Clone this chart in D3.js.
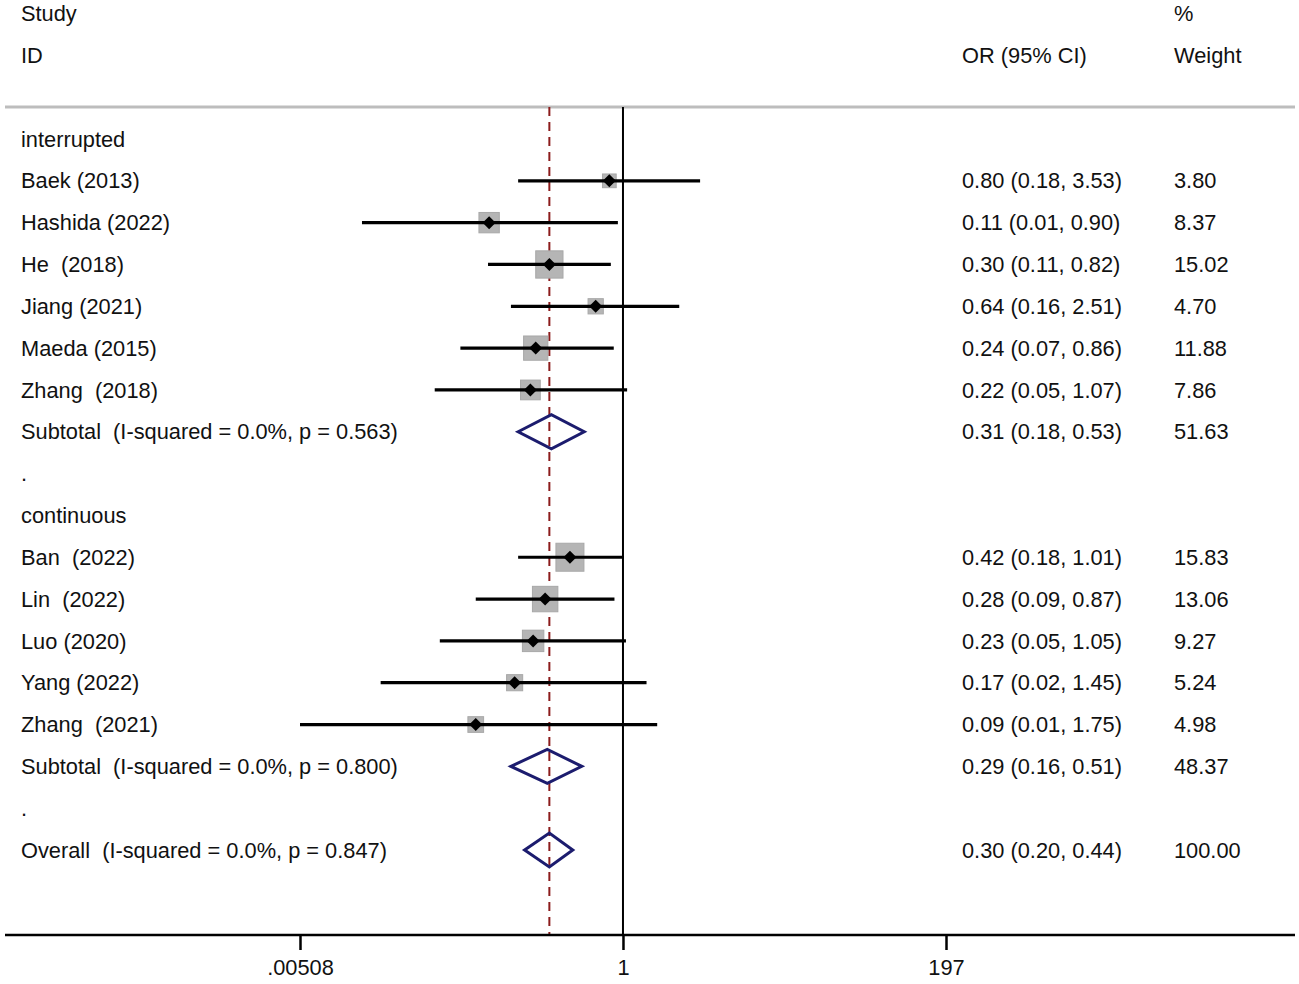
<!DOCTYPE html>
<html>
<head>
<meta charset="utf-8">
<script src="https://cdn.jsdelivr.net/npm/d3@7"></script>
<style>
  body { margin: 0; background: #fff; }
  text { font-family: "Liberation Sans", Arial, sans-serif; font-size: 21.8px; fill: #111; white-space: pre; }
</style>
</head>
<body>
<div id="chart"></div>
<script>
// study level data
const groupNames = ["interrupted", "continuous"];
const studyGroup = [0, 0, 0, 0, 0, 0, 1, 1, 1, 1, 1];
const studyNames = ["Baek (2013)", "Hashida (2022)", "He  (2018)", "Jiang (2021)", "Maeda (2015)", "Zhang  (2018)",
                    "Ban  (2022)", "Lin  (2022)", "Luo (2020)", "Yang (2022)", "Zhang  (2021)"];
const orEst  = [0.80, 0.112, 0.30, 0.64, 0.24, 0.22, 0.42, 0.28, 0.23, 0.17, 0.09];
const ciLow  = [0.18, 0.014, 0.11, 0.16, 0.07, 0.046, 0.18, 0.09, 0.05, 0.019, 0.00508];
const ciHigh = [3.53, 0.92, 0.82, 2.51, 0.86, 1.07, 1.01, 0.87, 1.05, 1.47, 1.75];
const weights = [3.80, 8.37, 15.02, 4.70, 11.88, 7.86, 15.83, 13.06, 9.27, 5.24, 4.98];
const orLabels = ["0.80 (0.18, 3.53)", "0.11 (0.01, 0.90)", "0.30 (0.11, 0.82)", "0.64 (0.16, 2.51)",
                  "0.24 (0.07, 0.86)", "0.22 (0.05, 1.07)", "0.42 (0.18, 1.01)", "0.28 (0.09, 0.87)",
                  "0.23 (0.05, 1.05)", "0.17 (0.02, 1.45)", "0.09 (0.01, 1.75)"];
const weightLabels = ["3.80", "8.37", "15.02", "4.70", "11.88", "7.86", "15.83", "13.06", "9.27", "5.24", "4.98"];

// pooled estimates: subtotal interrupted, subtotal continuous, overall
const pooledNames = ["Subtotal  (I-squared = 0.0%, p = 0.563)", "Subtotal  (I-squared = 0.0%, p = 0.800)",
                     "Overall  (I-squared = 0.0%, p = 0.847)"];
const pooledEst  = [0.31, 0.29, 0.30];
const pooledLow  = [0.18, 0.16, 0.20];
const pooledHigh = [0.53, 0.51, 0.44];
const pooledOrLabels = ["0.31 (0.18, 0.53)", "0.29 (0.16, 0.51)", "0.30 (0.20, 0.44)"];
const pooledWeightLabels = ["51.63", "48.37", "100.00"];

const tickValues = [0.00508, 1, 197];
const tickLabels = [".00508", "1", "197"];

// build the row list
let rows = [];
groupNames.forEach((g, gi) => {
    rows.push({ type: "group", label: g });
    studyNames.forEach((s, i) => {
        if (studyGroup[i] !== gi) return;
        rows.push({ type: "study", label: s, est: orEst[i], lo: ciLow[i], hi: ciHigh[i],
                    w: weights[i], orText: orLabels[i], wText: weightLabels[i] });
    });
    rows.push({ type: "pooled", label: pooledNames[gi], est: pooledEst[gi], lo: pooledLow[gi],
                hi: pooledHigh[gi], orText: pooledOrLabels[gi], wText: pooledWeightLabels[gi] });
    rows.push({ type: "spacer", label: "." });
});
rows.push({ type: "pooled", label: pooledNames[2], est: pooledEst[2], lo: pooledLow[2],
            hi: pooledHigh[2], orText: pooledOrLabels[2], wText: pooledWeightLabels[2] });

const width = 1299, height = 984;
const svg = d3.select("#chart").append("svg")
    .attr("width", width)
    .attr("height", height);

const x = d3.scaleLog().domain([0.00508, 197]).range([300, 946]);
const y = d3.scaleLinear().domain([0, rows.length - 1]).range([139, 850]);
const boxSize = d3.scaleSqrt().domain([0, d3.max(weights)]).range([0, 28]);

const plotTop = 107, axisY = 935;
const colLabel = 21, colOr = 962, colWeight = 1174;

// header
svg.append("text").attr("x", colLabel).attr("y", 13).attr("dy", "0.35em").text("Study");
svg.append("text").attr("x", colLabel).attr("y", 55).attr("dy", "0.35em").text("ID");
svg.append("text").attr("x", colOr).attr("y", 55).attr("dy", "0.35em").text("OR (95% CI)");
svg.append("text").attr("x", colWeight).attr("y", 13).attr("dy", "0.35em").text("%");
svg.append("text").attr("x", colWeight).attr("y", 55).attr("dy", "0.35em").text("Weight");

svg.append("line")
    .attr("x1", 5).attr("x2", 1295)
    .attr("y1", plotTop).attr("y2", plotTop)
    .attr("stroke", "#bdbdbd")
    .attr("stroke-width", 3);

// null line at OR = 1
svg.append("line")
    .attr("x1", x(1)).attr("x2", x(1))
    .attr("y1", plotTop).attr("y2", axisY)
    .attr("stroke", "#000")
    .attr("stroke-width", 2);

// overall estimate line
svg.append("line")
    .attr("x1", x(pooledEst[2])).attr("x2", x(pooledEst[2]))
    .attr("y1", plotTop).attr("y2", axisY)
    .attr("stroke", "#8b1c1c")
    .attr("stroke-width", 2)
    .attr("stroke-dasharray", "9,6");

// row labels and text columns
const rowG = svg.selectAll("g.row")
    .data(rows)
    .enter()
    .append("g")
    .attr("class", "row")
    .attr("transform", (d, i) => `translate(0, ${y(i)})`);

rowG.append("text")
    .attr("x", colLabel)
    .attr("dy", "0.35em")
    .text(d => d.label);

rowG.filter(d => d.orText)
    .append("text")
    .attr("x", colOr)
    .attr("dy", "0.35em")
    .text(d => d.orText);

rowG.filter(d => d.wText)
    .append("text")
    .attr("x", colWeight)
    .attr("dy", "0.35em")
    .text(d => d.wText);

// studies: weight boxes, CI lines, point markers
const studyG = rowG.filter(d => d.type === "study");

studyG.append("rect")
    .attr("x", d => x(d.est) - boxSize(d.w) / 2)
    .attr("y", d => -boxSize(d.w) / 2)
    .attr("width", d => boxSize(d.w))
    .attr("height", d => boxSize(d.w))
    .attr("fill", "#b5b5b5")
    .attr("stroke", "#a8a8a8")
    .attr("stroke-width", 1);

studyG.append("line")
    .attr("x1", d => x(d.lo))
    .attr("x2", d => x(d.hi))
    .attr("stroke", "#000")
    .attr("stroke-width", 3.2);

studyG.append("path")
    .attr("d", d => {
        const cx = x(d.est), r = 6.5;
        return `M${cx - r},0L${cx},${-r}L${cx + r},0L${cx},${r}Z`;
    })
    .attr("fill", "#000");

// pooled diamonds
rowG.filter(d => d.type === "pooled")
    .append("path")
    .attr("d", d => {
        const h = 17;
        return `M${x(d.lo)},0L${x(d.est)},${-h}L${x(d.hi)},0L${x(d.est)},${h}Z`;
    })
    .attr("fill", "none")
    .attr("stroke", "#1c1c6e")
    .attr("stroke-width", 3)
    .attr("stroke-linejoin", "miter");

// x axis
svg.append("line")
    .attr("x1", 5).attr("x2", 1295)
    .attr("y1", axisY).attr("y2", axisY)
    .attr("stroke", "#000")
    .attr("stroke-width", 2.5);

const xAxis = d3.axisBottom(x)
    .tickValues(tickValues)
    .tickFormat((d, i) => tickLabels[i])
    .tickSize(15)
    .tickPadding(10);

const axisG = svg.append("g")
    .attr("transform", `translate(0, ${axisY})`)
    .call(xAxis);

axisG.select(".domain").remove();
axisG.selectAll(".tick line").attr("stroke", "#000").attr("stroke-width", 2.5);
axisG.selectAll(".tick text")
    .attr("font-family", null)
    .attr("font-size", null)
    .attr("fill", "#111");
</script>
</body>
</html>
